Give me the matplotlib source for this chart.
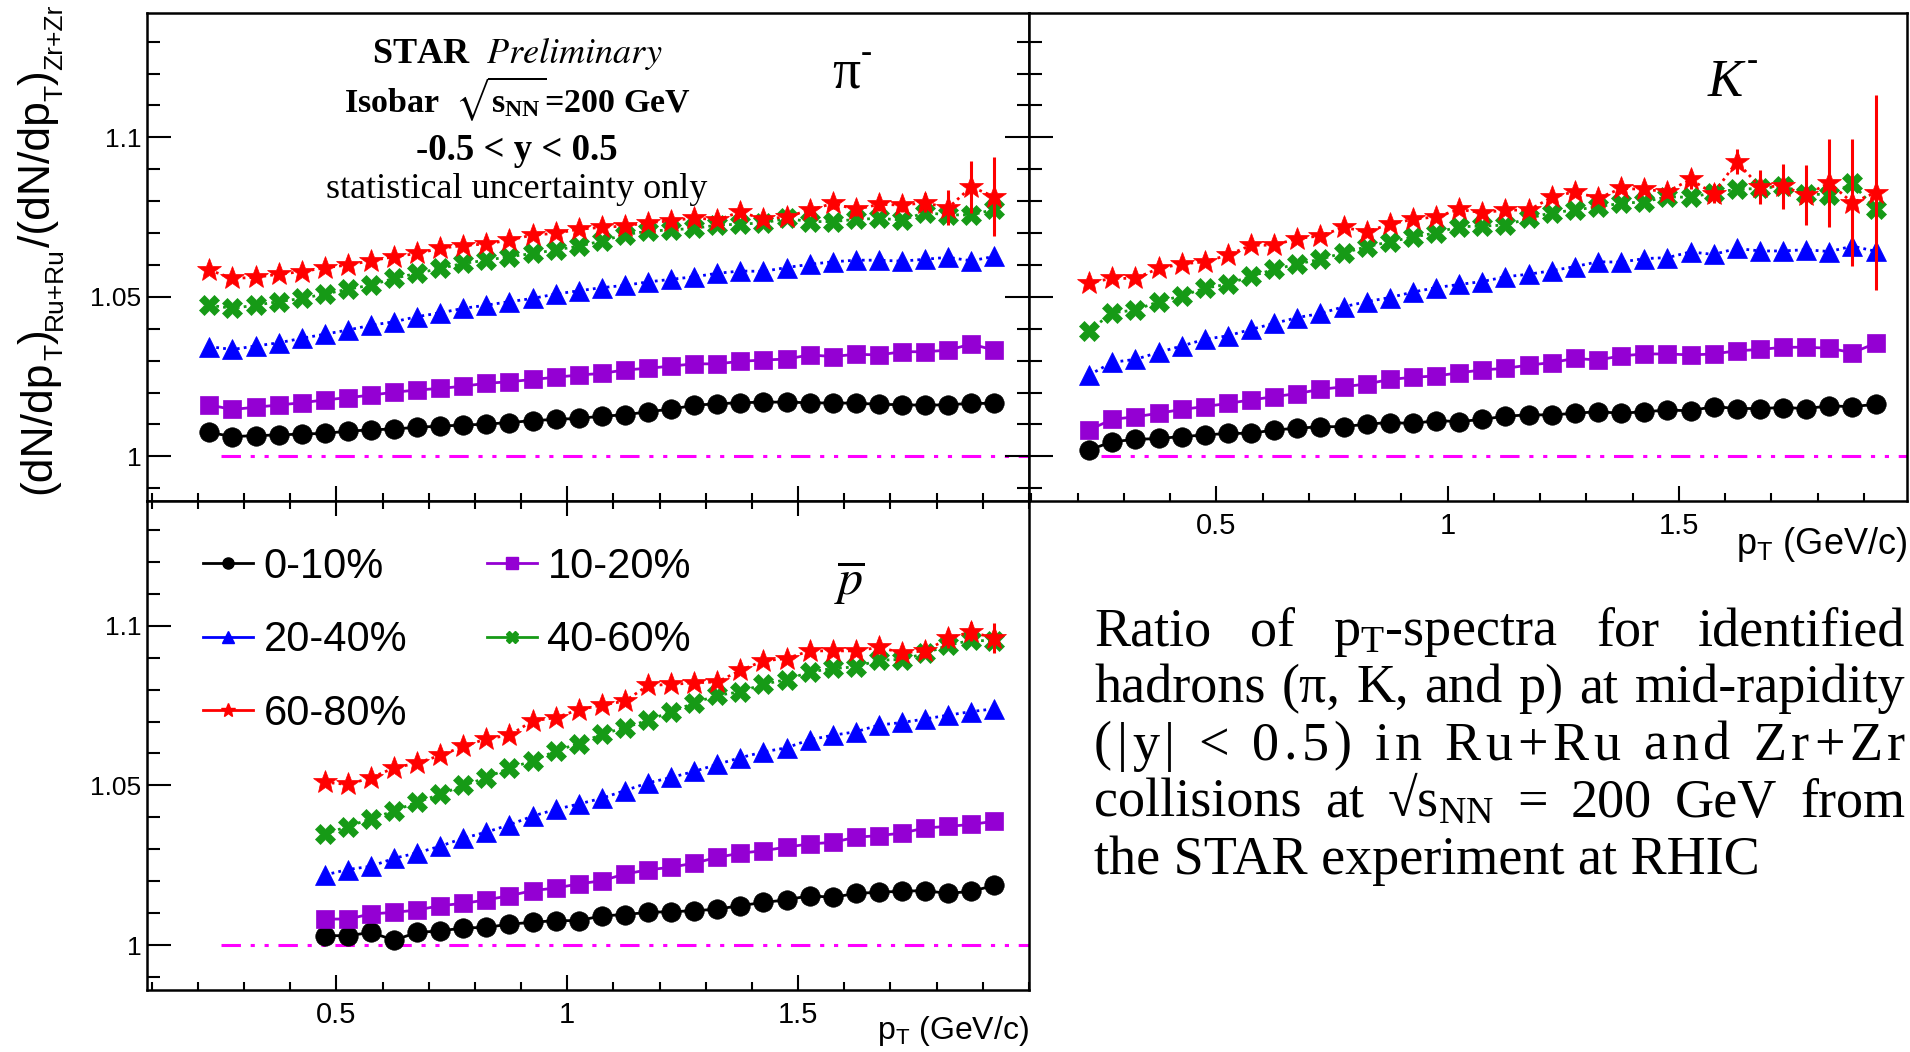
import numpy as np
import matplotlib
matplotlib.use('Agg')
import matplotlib.pyplot as plt
from matplotlib.ticker import MultipleLocator, FixedLocator, FuncFormatter
from matplotlib.lines import Line2D

plt.rcParams['font.family'] = ['Liberation Sans', 'DejaVu Sans']
plt.rcParams['mathtext.fontset'] = 'stix'
plt.rcParams['mathtext.default'] = 'regular'
plt.rcParams['lines.scale_dashes'] = False

# ---- data: ratio Ru+Ru / Zr+Zr vs pT (bin centres, GeV/c) ----
pt_pi = [0.225, 0.275, 0.325, 0.375, 0.425, 0.475, 0.525, 0.575, 0.625, 0.675,
         0.725, 0.775, 0.825, 0.875, 0.925, 0.975, 1.025, 1.075, 1.125, 1.175,
         1.225, 1.275, 1.325, 1.375, 1.425, 1.475, 1.525, 1.575, 1.625, 1.675,
         1.725, 1.775, 1.825, 1.875, 1.925]
pt_k = list(pt_pi)
pt_p = pt_pi[5:]

centralities = ['0-10%', '10-20%', '20-40%', '40-60%', '60-80%']

pi_0_10 = [1.0075, 1.0062, 1.0065, 1.0067, 1.0070, 1.0072, 1.0079, 1.0083, 1.0086, 1.0091,
           1.0095, 1.0098, 1.0101, 1.0106, 1.0112, 1.0116, 1.0119, 1.0126, 1.0130, 1.0140,
           1.0148, 1.0160, 1.0165, 1.0168, 1.0170, 1.0170, 1.0168, 1.0167, 1.0167, 1.0163,
           1.0162, 1.0160, 1.0162, 1.0166, 1.0166]
pi_10_20 = [1.0161, 1.0147, 1.0154, 1.0161, 1.0168, 1.0177, 1.0184, 1.0192, 1.0201, 1.0208,
            1.0213, 1.0220, 1.0229, 1.0234, 1.0241, 1.0248, 1.0255, 1.0260, 1.0271, 1.0276,
            1.0283, 1.0290, 1.0290, 1.0298, 1.0302, 1.0305, 1.0318, 1.0313, 1.0320, 1.0318,
            1.0328, 1.0328, 1.0333, 1.0352, 1.0333]
pi_20_40 = [1.0344, 1.0335, 1.0346, 1.0356, 1.0370, 1.0383, 1.0396, 1.0411, 1.0422, 1.0438,
            1.0450, 1.0464, 1.0474, 1.0485, 1.0495, 1.0509, 1.0519, 1.0529, 1.0536, 1.0547,
            1.0555, 1.0563, 1.0574, 1.0581, 1.0580, 1.0592, 1.0602, 1.0610, 1.0615, 1.0615,
            1.0612, 1.0618, 1.0624, 1.0613, 1.0627]
pi_40_60 = [1.0474, 1.0464, 1.0474, 1.0485, 1.0495, 1.0509, 1.0524, 1.0537, 1.0558, 1.0574,
            1.0589, 1.0605, 1.0615, 1.0626, 1.0636, 1.0647, 1.0659, 1.0675, 1.0695, 1.0706,
            1.0710, 1.0715, 1.0725, 1.0728, 1.0732, 1.0746, 1.0736, 1.0736, 1.0743, 1.0746,
            1.0741, 1.0764, 1.0757, 1.0757, 1.0774]
pi_60_80 = [1.0584, 1.0558, 1.0561, 1.0571, 1.0579, 1.0591, 1.0600, 1.0613, 1.0626, 1.0636,
            1.0652, 1.0661, 1.0666, 1.0678, 1.0694, 1.0699, 1.0712, 1.0718, 1.0722, 1.0733,
            1.0738, 1.0748, 1.0741, 1.0767, 1.0743, 1.0751, 1.0772, 1.0793, 1.0774, 1.0790,
            1.0788, 1.0795, 1.0779, 1.0845, 1.0814]
pi_60_80_err = [0.0008, 0.0008, 0.0008, 0.0008, 0.0008, 0.0008, 0.0008, 0.0008, 0.0009, 0.0009,
                0.0009, 0.0009, 0.0010, 0.0010, 0.0010, 0.0010, 0.0011, 0.0011, 0.0012, 0.0012,
                0.0013, 0.0013, 0.0014, 0.0015, 0.0016, 0.0017, 0.0018, 0.0019, 0.0020, 0.0020,
                0.0022, 0.0030, 0.0055, 0.0081, 0.0124]

k_0_10 = [1.0020, 1.0046, 1.0053, 1.0056, 1.0062, 1.0067, 1.0072, 1.0072, 1.0083, 1.0088,
          1.0093, 1.0093, 1.0101, 1.0106, 1.0103, 1.0112, 1.0109, 1.0116, 1.0126, 1.0130,
          1.0130, 1.0135, 1.0140, 1.0135, 1.0140, 1.0145, 1.0143, 1.0156, 1.0150, 1.0150,
          1.0153, 1.0150, 1.0158, 1.0156, 1.0163]
k_10_20 = [1.0083, 1.0116, 1.0124, 1.0135, 1.0147, 1.0156, 1.0166, 1.0177, 1.0187, 1.0197,
           1.0210, 1.0218, 1.0227, 1.0241, 1.0248, 1.0252, 1.0262, 1.0271, 1.0276, 1.0286,
           1.0294, 1.0307, 1.0302, 1.0315, 1.0321, 1.0321, 1.0318, 1.0321, 1.0331, 1.0335,
           1.0342, 1.0342, 1.0339, 1.0325, 1.0354]
k_20_40 = [1.0255, 1.0295, 1.0304, 1.0326, 1.0346, 1.0367, 1.0378, 1.0398, 1.0417, 1.0435,
           1.0448, 1.0469, 1.0485, 1.0498, 1.0515, 1.0529, 1.0539, 1.0548, 1.0563, 1.0571,
           1.0582, 1.0595, 1.0610, 1.0609, 1.0620, 1.0623, 1.0641, 1.0633, 1.0652, 1.0644,
           1.0644, 1.0648, 1.0642, 1.0659, 1.0643]
k_40_60 = [1.0394, 1.0450, 1.0459, 1.0485, 1.0503, 1.0527, 1.0540, 1.0565, 1.0586, 1.0603,
           1.0618, 1.0638, 1.0657, 1.0673, 1.0687, 1.0701, 1.0720, 1.0722, 1.0725, 1.0746,
           1.0764, 1.0772, 1.0783, 1.0793, 1.0798, 1.0814, 1.0812, 1.0827, 1.0837, 1.0840,
           1.0847, 1.0824, 1.0819, 1.0856, 1.0774]
k_60_80 = [1.0544, 1.0558, 1.0558, 1.0589, 1.0603, 1.0610, 1.0631, 1.0662, 1.0662, 1.0683,
           1.0691, 1.0718, 1.0704, 1.0728, 1.0743, 1.0751, 1.0774, 1.0764, 1.0772, 1.0772,
           1.0812, 1.0830, 1.0809, 1.0840, 1.0837, 1.0830, 1.0868, 1.0824, 1.0924, 1.0845,
           1.0847, 1.0819, 1.0858, 1.0795, 1.0827]
k_60_80_err = [0.0008, 0.0008, 0.0008, 0.0008, 0.0008, 0.0008, 0.0009, 0.0009, 0.0009, 0.0009,
               0.0010, 0.0010, 0.0010, 0.0010, 0.0011, 0.0011, 0.0011, 0.0012, 0.0012, 0.0012,
               0.0013, 0.0013, 0.0014, 0.0014, 0.0015, 0.0020, 0.0029, 0.0030, 0.0040, 0.0054,
               0.0070, 0.0094, 0.0138, 0.0199, 0.0306]

p_0_10 = [1.0030, 1.0030, 1.0040, 1.0016, 1.0040, 1.0045, 1.0054, 1.0056, 1.0066, 1.0072,
          1.0077, 1.0077, 1.0092, 1.0096, 1.0103, 1.0105, 1.0108, 1.0113, 1.0124, 1.0134,
          1.0142, 1.0155, 1.0150, 1.0162, 1.0166, 1.0169, 1.0171, 1.0162, 1.0169, 1.0187]
p_10_20 = [1.0082, 1.0082, 1.0098, 1.0103, 1.0110, 1.0124, 1.0131, 1.0142, 1.0155, 1.0171,
           1.0179, 1.0192, 1.0202, 1.0223, 1.0236, 1.0244, 1.0257, 1.0275, 1.0288, 1.0296,
           1.0307, 1.0317, 1.0322, 1.0338, 1.0343, 1.0351, 1.0367, 1.0372, 1.0378, 1.0388]
p_20_40 = [1.0220, 1.0237, 1.0247, 1.0272, 1.0289, 1.0310, 1.0335, 1.0354, 1.0377, 1.0404,
           1.0425, 1.0442, 1.0460, 1.0484, 1.0508, 1.0525, 1.0544, 1.0566, 1.0587, 1.0605,
           1.0618, 1.0643, 1.0657, 1.0668, 1.0689, 1.0697, 1.0708, 1.0720, 1.0731, 1.0740]
p_40_60 = [1.0349, 1.0371, 1.0396, 1.0420, 1.0448, 1.0472, 1.0500, 1.0524, 1.0555, 1.0576,
           1.0608, 1.0631, 1.0660, 1.0681, 1.0704, 1.0730, 1.0758, 1.0782, 1.0793, 1.0817,
           1.0831, 1.0855, 1.0866, 1.0871, 1.0892, 1.0894, 1.0913, 1.0939, 1.0954, 1.0952]
p_60_80 = [1.0510, 1.0503, 1.0524, 1.0555, 1.0570, 1.0594, 1.0622, 1.0646, 1.0657, 1.0702,
           1.0712, 1.0737, 1.0751, 1.0764, 1.0813, 1.0816, 1.0821, 1.0824, 1.0860, 1.0890,
           1.0897, 1.0921, 1.0921, 1.0921, 1.0932, 1.0915, 1.0921, 1.0960, 1.0981, 1.0960]
p_60_80_err = [0.0008, 0.0008, 0.0008, 0.0008, 0.0008, 0.0009, 0.0009, 0.0009, 0.0009, 0.0009,
               0.0010, 0.0010, 0.0010, 0.0010, 0.0010, 0.0011, 0.0011, 0.0012, 0.0012, 0.0013,
               0.0014, 0.0015, 0.0016, 0.0017, 0.0020, 0.0020, 0.0022, 0.0030, 0.0030, 0.0047]

# reference line at ratio = 1
ref_x = [0.25, 2.0]
ref_y = [1.0, 1.0]

# ---- styles ----
colors = ['black', '#9400d3', '#0000ff', '#169a16', '#ff0000']
markers = ['o', 's', '^', 'X', '*']
msizes = [14, 13, 14, 15, 18]
dotted = (0, (2.0, 3.0))
lstyles = ['-', '-', dotted, dotted, dotted]

W, H = 1910, 1052
fig = plt.figure(figsize=(W / 100, H / 100), dpi=100)
renderer = fig.canvas.get_renderer()


def fx(px):
    return px / W


def fy(py):
    return 1 - py / H


x0, xm, x1 = 147, 1029, 1907
y0, ym, y1 = 13, 501, 990
ax_pi = fig.add_axes([fx(x0), fy(ym), fx(xm) - fx(x0), fy(y0) - fy(ym)])
ax_k = fig.add_axes([fx(xm), fy(ym), fx(x1) - fx(xm), fy(y0) - fy(ym)])
ax_p = fig.add_axes([fx(x0), fy(y1), fx(xm) - fx(x0), fy(ym) - fy(y1)])


def draw(ax, pt, series, err):
    for i, y in enumerate(series):
        if i == 4:
            ax.errorbar(pt, y, yerr=err, fmt='none', ecolor=colors[i],
                        elinewidth=2.2, capsize=0, zorder=2 + i)
        ax.plot(pt, y, color=colors[i], marker=markers[i], ms=msizes[i],
                mec=colors[i], mew=0.5, ls=lstyles[i], lw=2.0, zorder=2 + i)
    ax.plot(ref_x, ref_y, color='#ff00ff', lw=2.2,
            dashes=(14, 7, 3, 7, 3, 7), zorder=1)


draw(ax_pi, pt_pi, [pi_0_10, pi_10_20, pi_20_40, pi_40_60, pi_60_80], pi_60_80_err)
draw(ax_k, pt_k, [k_0_10, k_10_20, k_20_40, k_40_60, k_60_80], k_60_80_err)
draw(ax_p, pt_p, [p_0_10, p_10_20, p_20_40, p_40_60, p_60_80], p_60_80_err)

fmt = FuncFormatter(lambda v, pos: '%g' % v)


def style(ax, xlim, ylabels, xlabels, top, right):
    ax.set_xlim(*xlim)
    ax.set_ylim(0.986, 1.139)
    ax.xaxis.set_major_locator(FixedLocator([0.5, 1.0, 1.5]))
    ax.xaxis.set_minor_locator(MultipleLocator(0.1))
    ax.yaxis.set_major_locator(FixedLocator([1.0, 1.05, 1.1]))
    ax.yaxis.set_minor_locator(MultipleLocator(0.01))
    ax.xaxis.set_major_formatter(fmt)
    ax.yaxis.set_major_formatter(fmt)
    ax.tick_params(which='both', direction='in', top=top, right=right,
                   left=True, bottom=True, width=1.5, colors='black',
                   labelleft=ylabels, labelbottom=xlabels)
    ax.tick_params(axis='y', which='major', length=17, pad=4, labelsize=19)
    ax.tick_params(axis='y', which='minor', length=9)
    ax.tick_params(axis='x', which='major', length=11, pad=8, labelsize=21)
    ax.tick_params(axis='x', which='minor', length=6)
    for s in ax.spines.values():
        s.set_linewidth(1.8)


style(ax_pi, (0.09, 2.0), True, False, False, True)
style(ax_k, (0.095, 1.993), False, True, False, False)
style(ax_p, (0.09, 2.0), True, True, True, False)

# y axis title, built from pieces so the subscripts can be smaller
ylab_parts = [('(dN/dp', False), ('T', True), (')', False), ('Ru+Ru', True),
              ('/(dN/dp', False), ('T', True), (')', False), ('Zr+Zr', True)]
ypix = H - 494
for txt, sub in ylab_parts:
    t = fig.text(fx(62 if sub else 50), ypix / H, txt, rotation=90,
                 rotation_mode='anchor', ha='left', va='baseline',
                 fontsize=19 if sub else 32)
    ypix += t.get_window_extent(renderer).height

ax_k.text(1.0, -0.05, r'p$_{T}$ (GeV/c)', transform=ax_k.transAxes,
          ha='right', va='top', fontsize=26)
ax_p.text(1.0, -0.05, r'p$_{T}$ (GeV/c)', transform=ax_p.transAxes,
          ha='right', va='top', fontsize=23)

# labels inside panels
serif = ['Liberation Serif', 'DejaVu Serif']
fig.text(fx(517), fy(63), r'STAR  $\mathit{Preliminary}$', family=serif,
         weight='bold', fontsize=26, ha='center', va='baseline')
fig.text(fx(517), fy(112), r'Isobar  $\sqrt{s_{NN}}$=200 GeV', family=serif,
         weight='bold', fontsize=24.5, ha='center', va='baseline')
fig.text(fx(517), fy(160), '-0.5 < y < 0.5', family=serif,
         weight='bold', fontsize=26.5, ha='center', va='baseline')
fig.text(fx(517), fy(198), 'statistical uncertainty only', family=serif,
         fontsize=26, ha='center', va='baseline')
fig.text(fx(846), fy(88), '\u03c0', family=serif, fontsize=40,
         ha='center', va='baseline')
fig.text(fx(866), fy(62), '-', family=serif, fontsize=24,
         ha='center', va='baseline')
fig.text(fx(1725), fy(96), 'K', family=serif, style='italic', fontsize=38,
         ha='center', va='baseline')
fig.text(fx(1752), fy(70), '-', family=serif, fontsize=24,
         ha='center', va='baseline')
fig.text(fx(849), fy(594), r'$\overline{\mathit{p}}$', family=serif, fontsize=36,
         ha='center', va='baseline')

# legend
handles = [Line2D([], [], color=colors[i], marker=markers[i], ms=8 if i != 4 else 10,
                  lw=2.0, ls='-') for i in range(5)]
order = [0, 2, 4, 1, 3]
ax_p.legend([handles[i] for i in order], [centralities[i] for i in order],
            ncol=2, loc='upper left', bbox_to_anchor=(fx(203), fy(547)),
            bbox_transform=fig.transFigure, frameon=False, fontsize=30,
            handlelength=1.2, handletextpad=0.26, columnspacing=1.9,
            labelspacing=0.8, borderpad=0, borderaxespad=0)

# caption text, justified
para = ['Ratio of p$_{T}$-spectra for identified',
        'hadrons (\u03c0, K, and p) at mid-rapidity',
        '(|y| < 0.5) in Ru+Ru and Zr+Zr',
        'collisions at \u221as$_{NN}$ = 200 GeV from',
        'the STAR experiment at RHIC']
left, right = 1094, 1905
base0, step = 645, 57.3
fs_cap = 39


def justify(tokens, yb):
    objs, widths = [], []
    for t in tokens:
        if t == ' ':
            objs.append(None)
            widths.append(0.25 * fs_cap * 100 / 72)
        else:
            o = fig.text(0, yb, t, family=serif, fontsize=fs_cap, va='baseline')
            objs.append(o)
            widths.append(o.get_window_extent(renderer).width)
    gap = (right - left - sum(widths)) / (len(tokens) - 1)
    xpos = left
    for o, w in zip(objs, widths):
        if o is not None:
            o.set_x(fx(xpos))
        xpos += w + gap


for i, line in enumerate(para):
    yb = fy(base0 + i * step)
    if i == len(para) - 1:
        fig.text(fx(left), yb, line, family=serif, fontsize=fs_cap, va='baseline')
    elif i == 2:
        justify(list(line), yb)
    else:
        justify(line.split(' '), yb)

fig.savefig('out.png', dpi=100)
